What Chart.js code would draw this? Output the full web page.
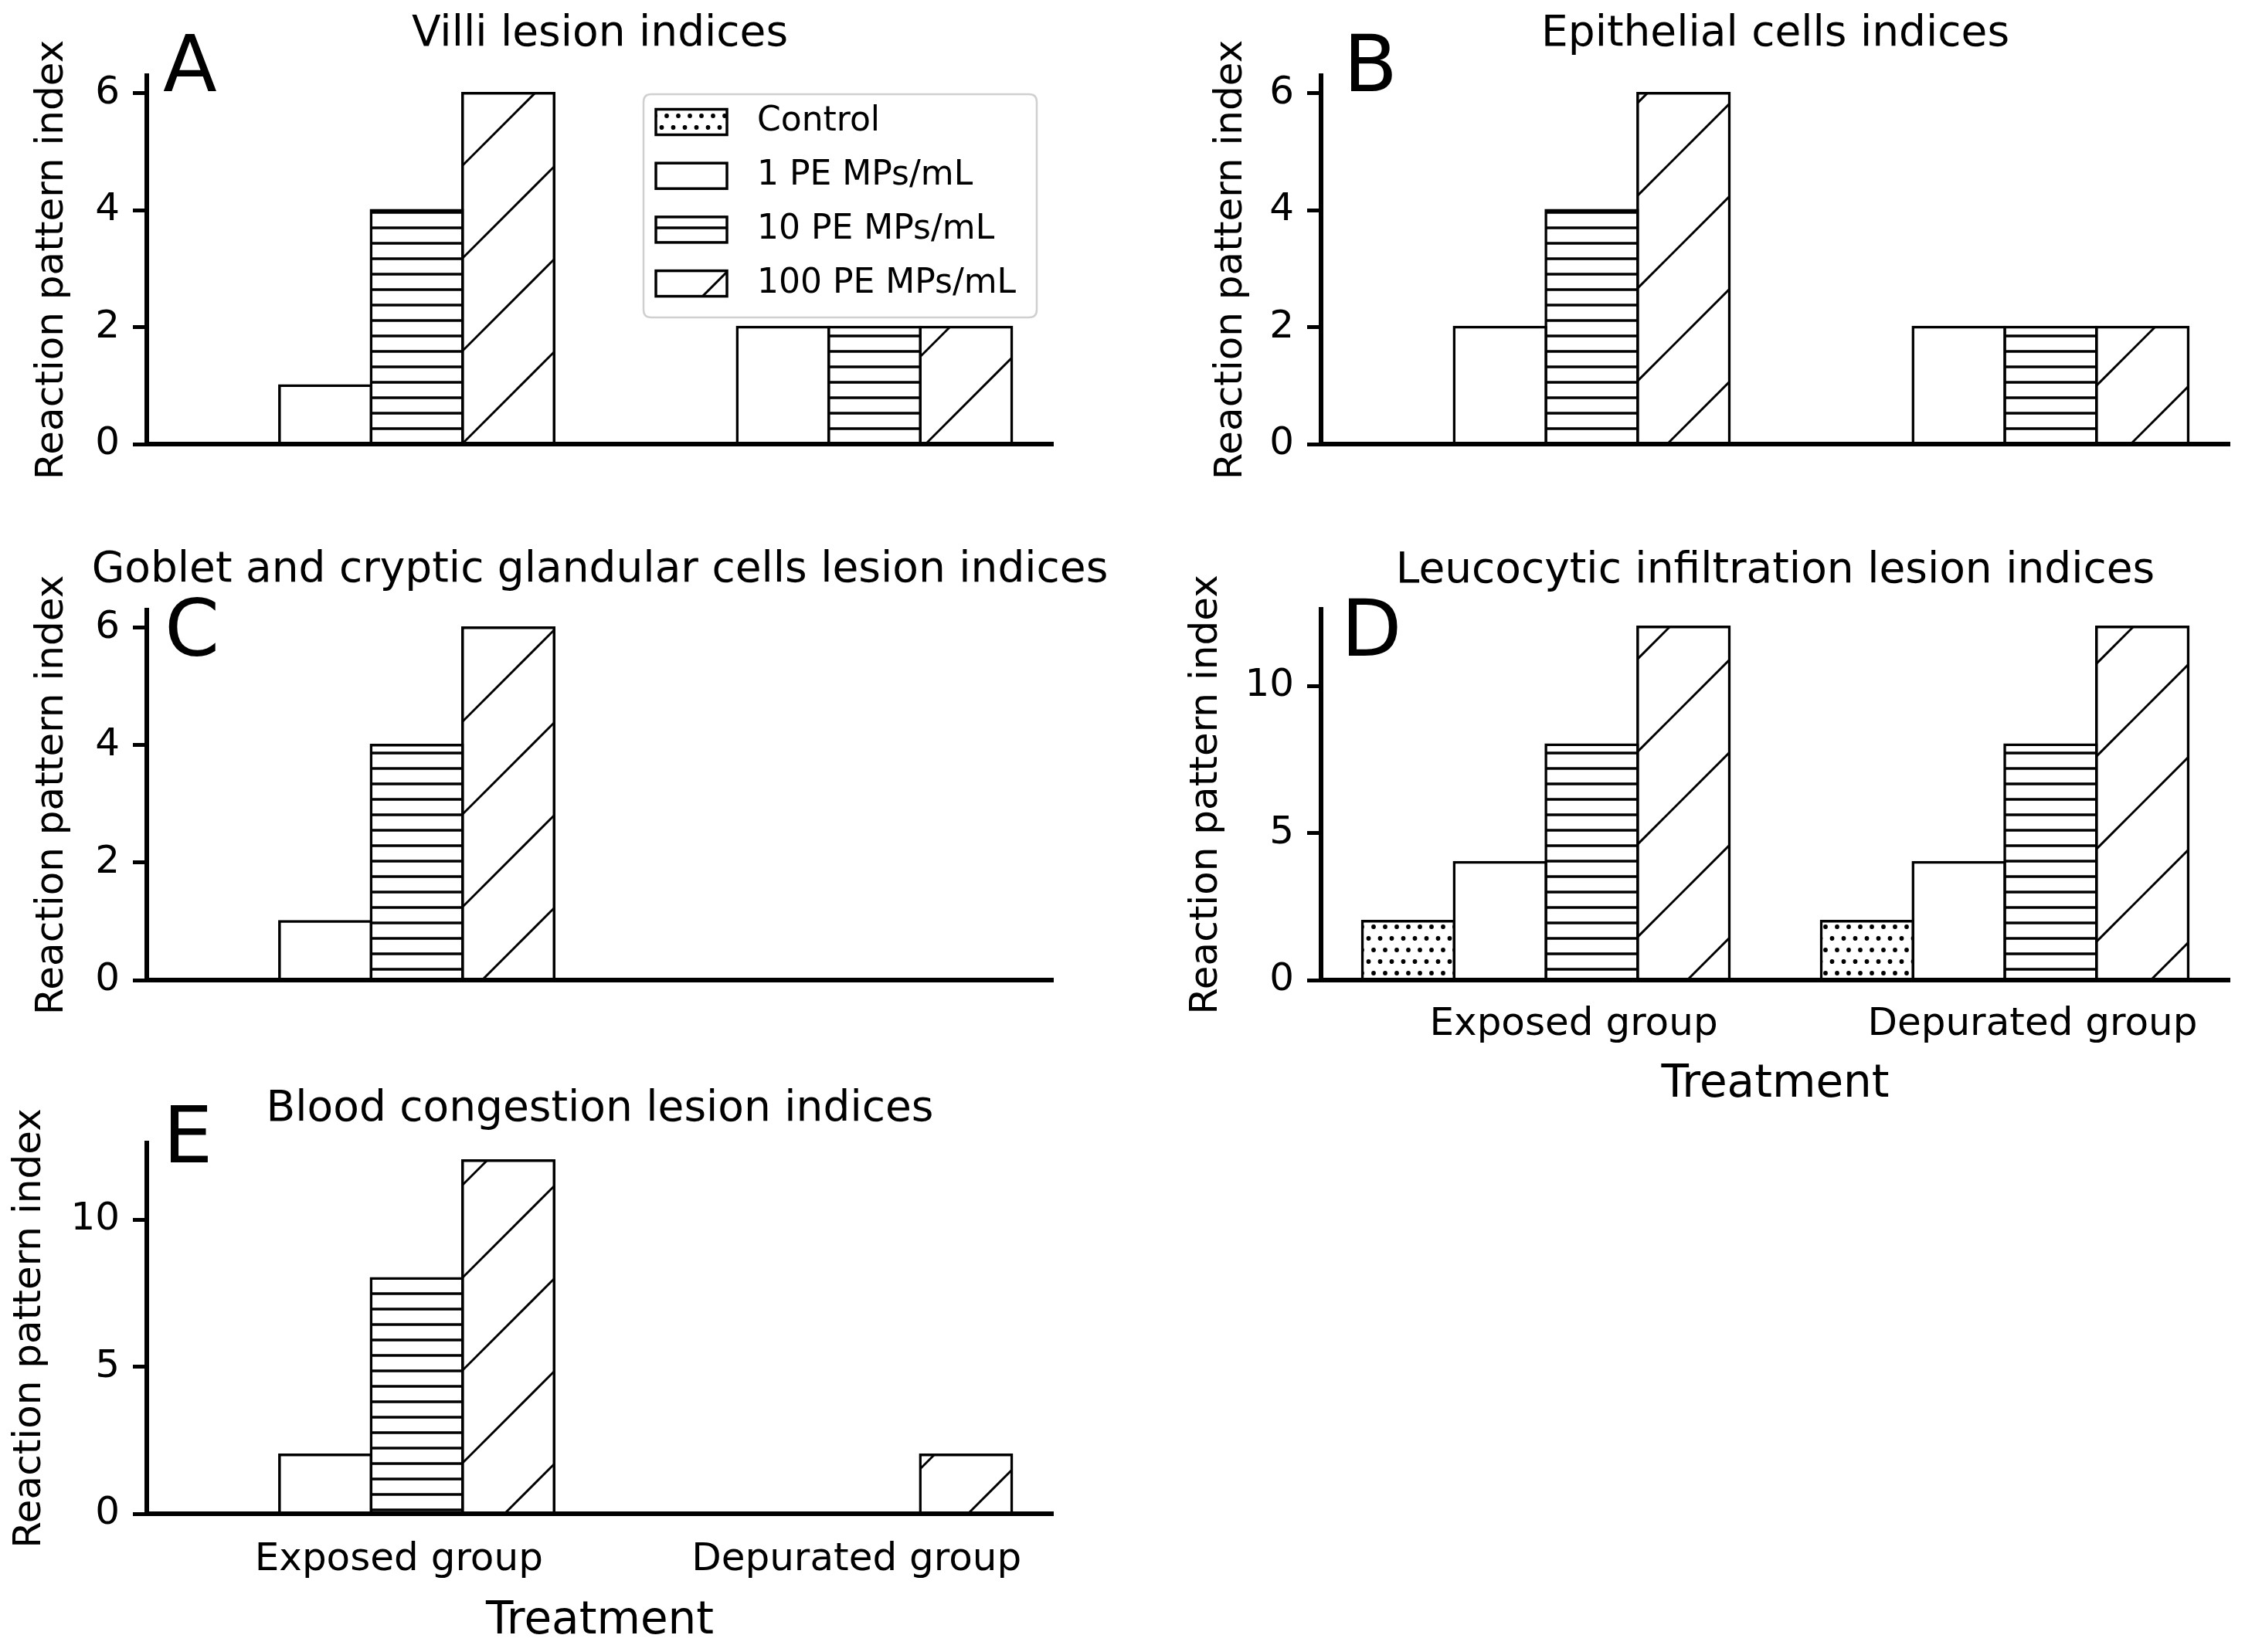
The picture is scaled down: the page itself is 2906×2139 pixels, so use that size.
<!DOCTYPE html>
<html>
<head>
<meta charset="utf-8">
<script src="https://cdn.jsdelivr.net/npm/chart.js@4.4.0/dist/chart.umd.min.js"></script>
<style>
html, body { margin: 0; padding: 0; background: #ffffff; }
body { width: 2906px; height: 2139px; position: relative; overflow: hidden; }
canvas { position: absolute; }
</style>
</head>
<body>
<canvas id="cA"></canvas>
<canvas id="cB"></canvas>
<canvas id="cC"></canvas>
<canvas id="cD"></canvas>
<canvas id="cE"></canvas>
<script>
// ---------------- data ----------------
const categories = ['Exposed group', 'Depurated group'];
const seriesNames = ['Control', '1 PE MPs/mL', '10 PE MPs/mL', '100 PE MPs/mL'];
const xPositions = [0, 1];

// rows: Control, 1 PE, 10 PE, 100 PE ; columns: Exposed, Depurated
const villiValues      = [[0, 0], [1, 2], [4, 2], [6, 2]];
const epithelialValues = [[0, 0], [2, 2], [4, 2], [6, 2]];
const gobletValues     = [[0, 0], [1, 0], [4, 0], [6, 0]];
const leucocyticValues = [[2, 2], [4, 4], [8, 8], [12, 12]];
const bloodValues      = [[0, 0], [2, 0], [8, 0], [12, 2]];

const panelTitles = [
  'Villi lesion indices',
  'Epithelial cells indices',
  'Goblet and cryptic glandular cells lesion indices',
  'Leucocytic infiltration lesion indices',
  'Blood congestion lesion indices'
];
const panelLetters = ['A', 'B', 'C', 'D', 'E'];
const yTicksSix = [0, 2, 4, 6];
const yTicksTwelve = [0, 5, 10];
const yLabel = 'Reaction pattern index';
const xLabel = 'Treatment';

// ---------------- style / layout ----------------
const FONT = 'DejaVu Sans';
const TITLE_SIZE = 55, TICK_SIZE = 50, YLAB_SIZE = 50, XLAB_SIZE = 58, LEG_SIZE = 44, LETTER_SIZE = 102;
const BAR_EDGE = 3.5;

Chart.defaults.font.family = FONT;
Chart.defaults.color = '#000000';

const panels = [
  { id: 'cA', idx: 0, values: villiValues, yTicks: yTicksSix, yMax: 6.3,
    canvas: { x: 0, y: 0, w: 1453, h: 680 }, area: { l: 190, r: 1363, t: 98, b: 575 },
    titleMid: 45, yLabelMid: 68, letterPos: { x: 211, y: 118 }, xLabels: false, legend: true },
  { id: 'cB', idx: 1, values: epithelialValues, yTicks: yTicksSix, yMax: 6.3,
    canvas: { x: 1453, y: 0, w: 1453, h: 680 }, area: { l: 1710, r: 2886, t: 98, b: 575 },
    titleMid: 45, yLabelMid: 1594, letterPos: { x: 1739, y: 118 }, xLabels: false, legend: false },
  { id: 'cC', idx: 2, values: gobletValues, yTicks: yTicksSix, yMax: 6.3,
    canvas: { x: 0, y: 680, w: 1453, h: 700 }, area: { l: 190, r: 1363, t: 790, b: 1269 },
    titleMid: 739, yLabelMid: 68, letterPos: { x: 213, y: 849 }, xLabels: false, legend: false },
  { id: 'cD', idx: 3, values: leucocyticValues, yTicks: yTicksTwelve, yMax: 12.6,
    canvas: { x: 1453, y: 680, w: 1453, h: 780 }, area: { l: 1710, r: 2886, t: 789, b: 1269 },
    titleMid: 740, yLabelMid: 1562, letterPos: { x: 1736, y: 849 }, xLabels: true, xPad: 28, xTitleMid: 1405, legend: false },
  { id: 'cE', idx: 4, values: bloodValues, yTicks: yTicksTwelve, yMax: 12.6,
    canvas: { x: 0, y: 1380, w: 1453, h: 759 }, area: { l: 190, r: 1363, t: 1480, b: 1960 },
    titleMid: 1437, yLabelMid: 39, letterPos: { x: 211, y: 1505 }, xLabels: true, xPad: 30, xTitleMid: 2100, legend: false }
];

// hatch fills anchored to page origin (like a single figure)
function makeFills(ctx, ox, oy) {
  function tile(w, h, draw) {
    const c = document.createElement('canvas');
    c.width = w; c.height = h;
    const t = c.getContext('2d');
    t.fillStyle = '#ffffff'; t.fillRect(0, 0, w, h);
    draw(t);
    const pat = ctx.createPattern(c, 'repeat');
    pat.setTransform(new DOMMatrix([1, 0, 0, 1, -ox, -oy]));
    return pat;
  }
  const dots = tile(15, 30, t => {
    t.fillStyle = '#000000';
    const pts = [[8, 0], [8, 30], [1.5, 15], [16.5, 15]];
    pts.forEach(([x, y]) => { t.beginPath(); t.arc(x, y, 2.9, 0, Math.PI * 2); t.fill(); });
  });
  const horiz = tile(20, 20, t => {
    t.fillStyle = '#000000';
    t.fillRect(0, 15 - 1.75, 20, 3.5);
  });
  const diag = tile(120, 120, t => {
    t.strokeStyle = '#000000'; t.lineWidth = 3;
    [-27, 93, 213, 333].forEach(s => {
      t.beginPath(); t.moveTo(-20, s + 20); t.lineTo(s + 20, -20); t.stroke();
    });
  });
  return [dots, '#ffffff', horiz, diag];
}

function makeDecor(p, fills) {
  return {
    id: 'decor' + p.id,
    afterLayout(chart) {
      // let long titles overflow the axes width (no squeezing), keeping them centred
      const tb = chart.titleBlock;
      if (tb) { tb.left -= 400; tb.right += 400; tb.width = tb.right - tb.left; }
    },
    afterDraw(chart) {
      const ctx = chart.ctx;
      const ox = p.canvas.x, oy = p.canvas.y;
      ctx.save();
      if (p.legend) {
        const bx = 833 - ox, by = 122 - oy, bw = 509, bh = 289, r = 10;
        ctx.beginPath();
        ctx.moveTo(bx + r, by);
        ctx.lineTo(bx + bw - r, by); ctx.quadraticCurveTo(bx + bw, by, bx + bw, by + r);
        ctx.lineTo(bx + bw, by + bh - r); ctx.quadraticCurveTo(bx + bw, by + bh, bx + bw - r, by + bh);
        ctx.lineTo(bx + r, by + bh); ctx.quadraticCurveTo(bx, by + bh, bx, by + bh - r);
        ctx.lineTo(bx, by + r); ctx.quadraticCurveTo(bx, by, bx + r, by);
        ctx.closePath();
        ctx.fillStyle = 'rgba(255,255,255,0.8)'; ctx.fill();
        ctx.lineWidth = 2.5; ctx.strokeStyle = '#d0d0d0'; ctx.stroke();
        ctx.font = LEG_SIZE + 'px "' + FONT + '"';
        ctx.textBaseline = 'middle'; ctx.textAlign = 'left';
        seriesNames.forEach((name, i) => {
          const mid = 158 + i * 69.7 - oy;
          const mx = 849 - ox, mw = 92, mh = 33, my = mid - mh / 2;
          ctx.fillStyle = fills[i]; ctx.fillRect(mx, my, mw, mh);
          ctx.lineWidth = BAR_EDGE; ctx.strokeStyle = '#000000'; ctx.strokeRect(mx, my, mw, mh);
          ctx.fillStyle = '#000000';
          ctx.fillText(name, 980 - ox, mid);
        });
      }
      ctx.font = LETTER_SIZE + 'px "' + FONT + '"';
      ctx.textBaseline = 'alphabetic'; ctx.textAlign = 'left';
      ctx.fillStyle = '#000000';
      ctx.fillText(panelLetters[p.idx], p.letterPos.x - ox, p.letterPos.y - oy);
      ctx.restore();
    }
  };
}

function build(p) {
  const cv = document.getElementById(p.id);
  cv.width = p.canvas.w; cv.height = p.canvas.h;
  cv.style.left = p.canvas.x + 'px'; cv.style.top = p.canvas.y + 'px';
  cv.style.width = p.canvas.w + 'px'; cv.style.height = p.canvas.h + 'px';
  const ctx = cv.getContext('2d');
  const fills = makeFills(ctx, p.canvas.x, p.canvas.y);

  const datasets = seriesNames.map((name, i) => ({
    label: name,
    data: xPositions.map((x, j) => ({ x: x, y: p.values[i][j] })),
    backgroundColor: fills[i],
    borderColor: '#000000',
    borderWidth: BAR_EDGE,
    borderSkipped: false,
    inflateAmount: BAR_EDGE / 2,
    categoryPercentage: 0.8,
    barPercentage: 1.0
  }));

  const padLeft = p.yLabelMid - YLAB_SIZE * 0.6 - p.canvas.x;
  const yWidth = p.area.l - p.canvas.x - padLeft;
  const padRight = p.canvas.x + p.canvas.w - p.area.r;
  const titleTop = p.titleMid - TITLE_SIZE * 0.6 - p.canvas.y;
  const titleBottom = p.area.t - p.canvas.y - titleTop - TITLE_SIZE * 1.2;
  let xHeight, padBottom;
  if (p.xLabels) {
    const sb = p.xTitleMid + XLAB_SIZE * 0.6;
    xHeight = sb - p.area.b;
    padBottom = p.canvas.y + p.canvas.h - sb;
  } else {
    xHeight = 40;
    padBottom = p.canvas.y + p.canvas.h - p.area.b - 40;
  }

  new Chart(ctx, {
    type: 'bar',
    data: { datasets: datasets },
    options: {
      responsive: false,
      animation: false,
      devicePixelRatio: 1,
      events: [],
      layout: { padding: { left: padLeft, right: padRight, top: 0, bottom: padBottom } },
      plugins: {
        legend: { display: false },
        tooltip: { enabled: false },
        title: {
          display: true, text: panelTitles[p.idx], fullSize: false, color: '#000000',
          font: { size: TITLE_SIZE, weight: 'normal', family: FONT },
          padding: { top: titleTop, bottom: titleBottom }
        }
      },
      scales: {
        x: {
          type: 'linear', min: -0.49, max: 1.49, offset: false,
          afterBuildTicks: s => { s.ticks = xPositions.map(v => ({ value: v })); },
          afterFit: s => { s.height = xHeight; },
          grid: { display: false, drawTicks: false, tickLength: 0 },
          border: { display: true, color: '#000000', width: 6, z: 1 },
          ticks: {
            display: p.xLabels, autoSkip: false, maxRotation: 0, minRotation: 0,
            callback: (v, i) => categories[i],
            font: { size: TICK_SIZE }, color: '#000000', padding: p.xPad || 0, labelOffset: 36
          },
          title: {
            display: p.xLabels, text: xLabel, color: '#000000',
            font: { size: XLAB_SIZE }, padding: { top: 0, bottom: 0 }
          }
        },
        y: {
          min: 0, max: p.yMax,
          afterBuildTicks: s => { s.ticks = p.yTicks.map(v => ({ value: v })); },
          afterFit: s => { s.width = yWidth; },
          grid: { display: true, drawOnChartArea: false, drawTicks: true, tickLength: 18, tickWidth: 5, tickColor: '#000000' },
          border: { display: true, color: '#000000', width: 6, z: 1 },
          ticks: { font: { size: TICK_SIZE }, color: '#000000', padding: 17, callback: v => String(v) },
          title: {
            display: true, text: yLabel, color: '#000000',
            font: { size: YLAB_SIZE }, padding: { top: 0, bottom: 0 }
          }
        }
      }
    },
    plugins: [makeDecor(p, fills)]
  });
}

panels.forEach(build);
</script>
</body>
</html>
